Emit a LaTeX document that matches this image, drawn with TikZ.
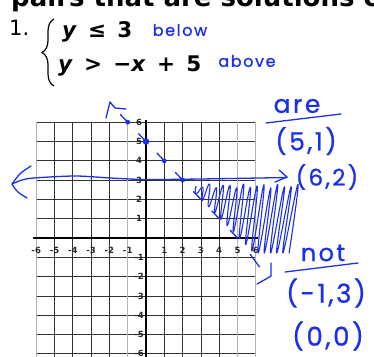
\documentclass[tikz,border=0pt]{standalone}
\usepackage{fontspec}
\setmainfont{DejaVu Sans}
\newfontfamily\eqfont[WordSpace=1.5]{DejaVu Sans}
\newfontfamily\handfont[LetterSpace=10, FakeBold=0.9]{Poppins}
\usetikzlibrary{arrows.meta,positioning,decorations.pathreplacing}
\definecolor{ink}{RGB}{28,48,232}

\begin{document}
\begin{tikzpicture}[
    x=1pt, y=-1pt,
    >=Stealth,
    grid line/.style={black!80, line width=0.7pt},
    grid faint/.style={gray!60, line width=0.7pt},
    axis line/.style={black, line width=2.4pt},
    tick label/.style={font=\fontsize{8.5}{8.5}\selectfont\bfseries, text=black!85, inner sep=0pt},
    pen/.style={draw=ink, line width=1.3pt, line cap=round, line join=round},
    hand/.style={text=ink, inner sep=0pt},
]

% Frame
\useasboundingbox (0,0) rectangle (374,356);
\clip (0,0) rectangle (374,356);

% Heading, cut off at the top
\node[anchor=base west, inner sep=0pt, font=\fontsize{26}{26}\selectfont\bfseries] (head) at (11,6) {pairs that are solutions o};

% Problem number and system
\node[anchor=base west, inner sep=0pt, font=\fontsize{21}{21}\selectfont] (num) at (9,35) {1.};
\draw[line width=1.2pt, decorate, decoration={brace, amplitude=12pt}] (54,86) -- (54,19);
\node[anchor=base west, inner sep=0pt, font=\eqfont\fontsize{21.5}{21.5}\selectfont\bfseries] (ineq1) at (62,37) {\textit{y} ≤ 3};
\node[anchor=base west, inner sep=0pt, font=\eqfont\fontsize{21.5}{21.5}\selectfont\bfseries] (ineq2) at (58,71) {\textit{y} > −\textit{x} + 5};

% Coordinate grid
\begin{scope}[shift={(146,238)}, x=18.3pt, y=19.3pt]
  \foreach \k in {-6,...,6} {
    \draw[grid line] (-6,\k) -- (6,\k);
    \draw[grid line] (\k,6) -- (\k,-6.3);
  }
  \foreach \k in {-6,-1,5,6} \draw[grid faint] (\k,6) -- (\k,-6.3);
  \draw[axis line] (-6.2,0) -- (6.1,0);
  \draw[axis line] (0,6.1) -- (0,-6.3);
  \foreach \k in {-6,...,6} {
    \ifnum\k=0\else
      \node[tick label] (tx\k) at (\k,-0.62) {\k};
      \node[tick label] (ty\k) at (-0.38,\k) {\k};
    \fi
  }

  % dashed boundary y = -x + 5
  \foreach \k in {-1,...,5} \draw[pen] (\k-0.4,5.4-\k) -- (\k,5-\k);
  \draw[pen] (5.7,-0.85) -- (6.2,-1.5);
  \foreach \k in {-1,1,2} \fill[ink] (\k,5-\k) circle[radius=2.4pt];
  \fill[ink] (0,5) circle[radius=3.3pt];
\end{scope}

% Solid boundary y = 3
\draw[pen] plot[smooth, tension=0.5] coordinates {(12,184) (22,180) (34,178) (75,176) (110,178) (146,179.5) (200,179) (287,177.5)};
\draw[pen] (31,166) .. controls (20,173) .. (12,184) .. controls (17,192) .. (27,198);
\draw[pen] (279,170) -- (287,177) -- (275,182);

% Arrow ends of the dashed line
\draw[pen] (106,118) -- (110,102) -- (115,108) -- (126,109);
\draw[pen] (257,284) -- (266,279) -- (271,276) -- (271,263);

% Shading
\draw[pen, line width=1.1pt] plot[smooth, tension=0.9, variable=\t, samples at={0,...,31}]
  ({193+3.1*\t+(3+0.3*\t)*(1-mod(\t,2))}, {mod(\t,2)==1 ? min(143+1.02*(193+3.1*\t-146),253) : 186+2*sin(70*\t)});

% Notes
\node[hand, font=\handfont\fontsize{16}{16}\selectfont] (below) at (180,30) {below};
\node[hand, font=\handfont\fontsize{16}{16}\selectfont] (above) at (247,61) {above};
\node[hand, font=\handfont\fontsize{25}{25}\selectfont] (are) at (297,106) {are};
\draw[pen] (266,123) -- (341,114);
\node[hand, font=\handfont\fontsize{25}{25}\selectfont] (p51) at (306,141) {(5,1)};
\node[hand, font=\handfont\fontsize{23}{23}\selectfont] (p62) at (327,177) {(6,2)};
\node[hand, font=\handfont\fontsize{24}{24}\selectfont] (not) at (323,253) {not};
\draw[pen] (285,272) -- (358,263);
\node[hand, font=\handfont\fontsize{26}{26}\selectfont] (pm13) at (326,293) {(-1,3)};
\node[hand, font=\handfont\fontsize{26}{26}\selectfont] (p00) at (328,336) {(0,0)};

\end{tikzpicture}
\end{document}
